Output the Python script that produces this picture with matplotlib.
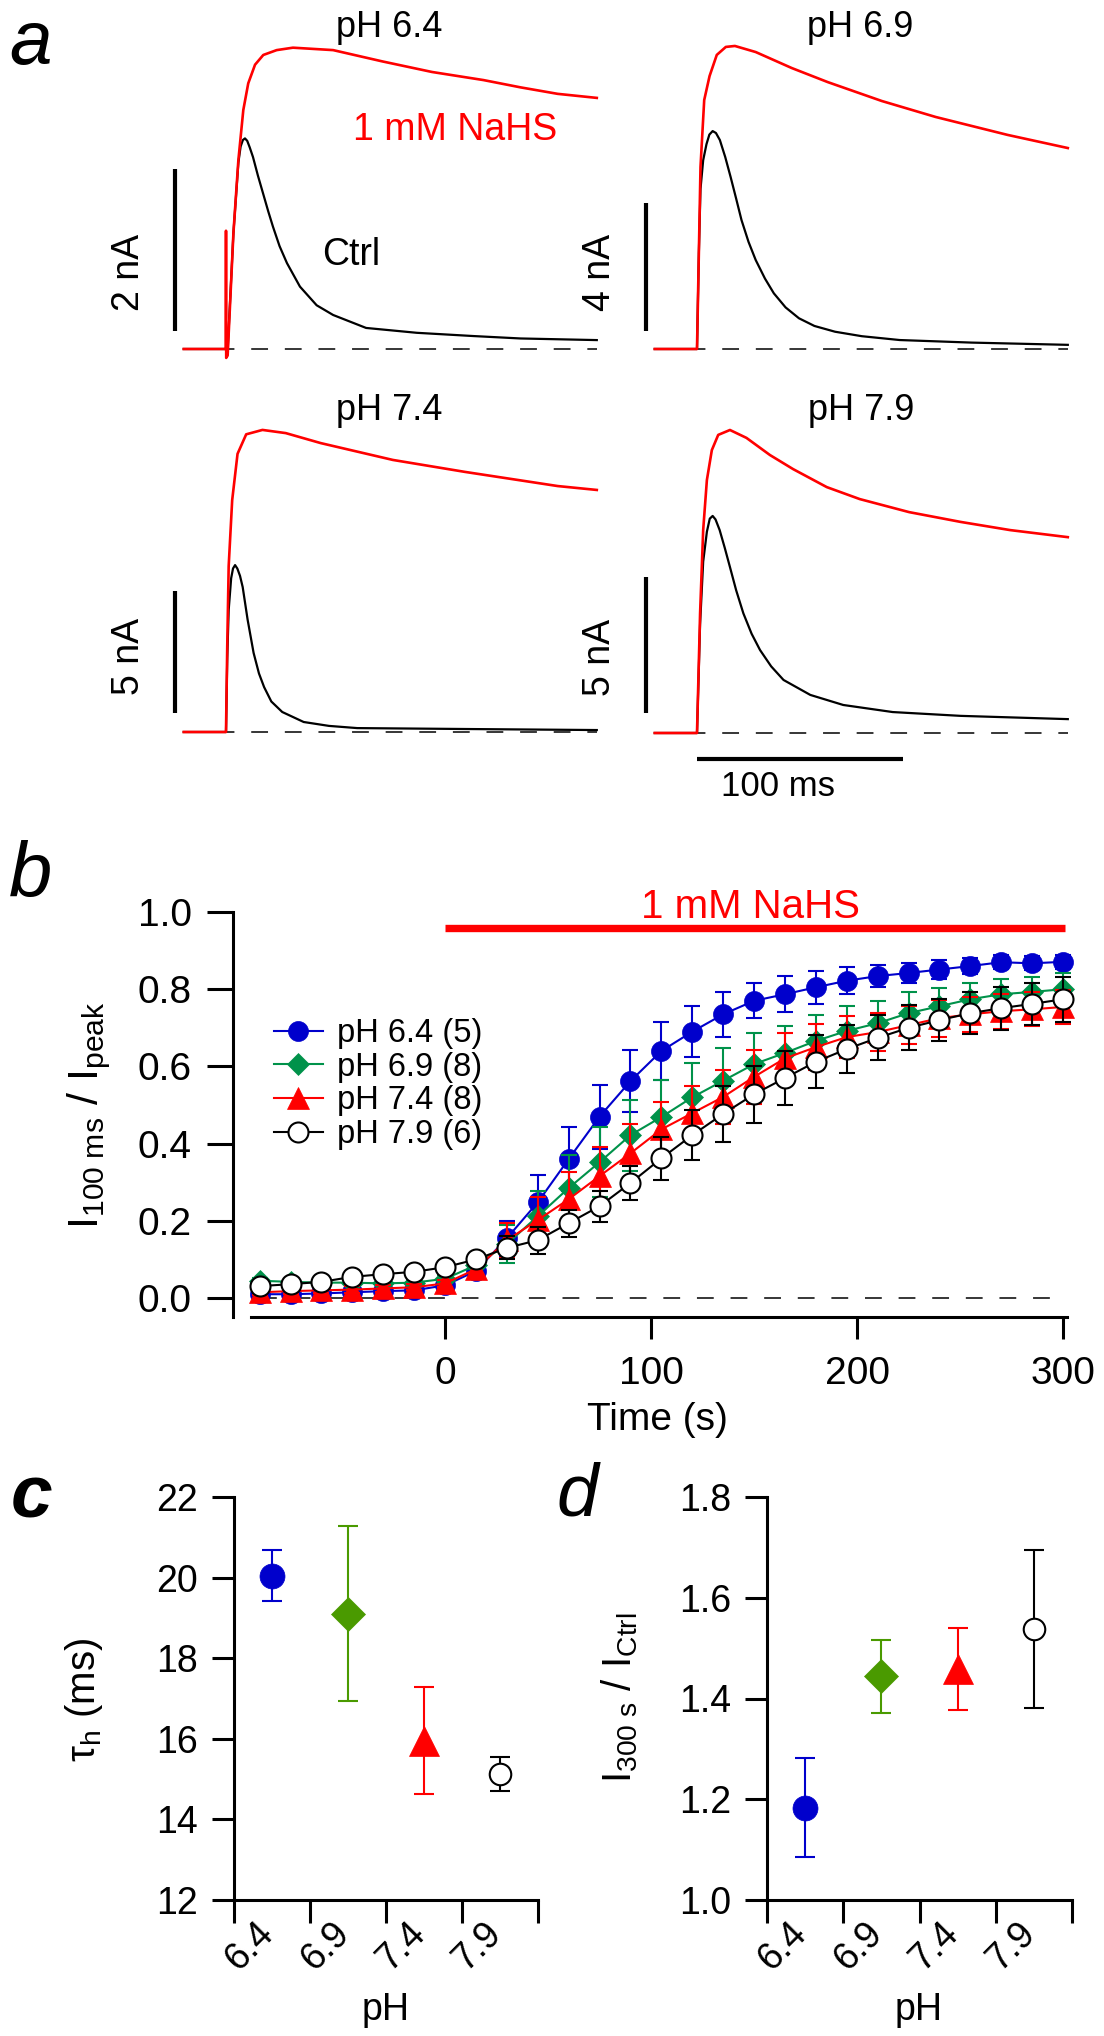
import matplotlib
matplotlib.use('Agg')
import matplotlib.pyplot as plt

plt.rcParams['font.family'] = ['Liberation Sans', 'DejaVu Sans']
plt.rcParams['mathtext.fontset'] = 'custom'
plt.rcParams['mathtext.rm'] = 'Liberation Sans'
plt.rcParams['mathtext.it'] = 'Liberation Sans:italic'
plt.rcParams['mathtext.bf'] = 'Liberation Sans:bold'

# ---------------- data ----------------
# a: example current traces (time in ms from pulse onset, current in nA)
t_64_ctrl = [-20.5, 0, 0.8, 3.6, 6.0, 7.1, 8.2, 9.2, 10.3, 11.5, 13.1, 15.5, 18, 20.5, 22.8, 26, 29.6,
             35.9, 44, 52, 68, 92.6, 120, 143, 180]
i_64_ctrl = [0, 0, -0.02, 1.43, 2.3, 2.5, 2.58, 2.60, 2.57, 2.49, 2.37, 2.14, 1.92, 1.70, 1.51, 1.27, 1.06,
             0.77, 0.54, 0.42, 0.26, 0.20, 0.16, 0.13, 0.11]
t_64_nahs = [-20.5, -10, -0.1, 0, 0.1, 0.8, 3.6, 6.0, 8.4, 10.8, 14.1, 18.1, 24.6, 32.5, 52, 76, 100, 125,
             143, 161, 180]
i_64_nahs = [0, 0, 0, 1.46, -0.11, -0.08, 1.43, 2.33, 2.95, 3.28, 3.51, 3.63, 3.69, 3.72, 3.69, 3.55, 3.42,
             3.32, 3.23, 3.15, 3.10]

t_69_ctrl = [-20.5, 0, 0.9, 1.7, 3.0, 4.6, 6.0, 7.6, 9.2, 11.1, 13.7, 16.3, 19, 21.6, 25, 28.5, 33, 37.3,
             43, 49.5, 57, 67, 80, 98.4, 133.3, 180]
i_69_ctrl = [0, 0, 3.0, 5.0, 5.9, 6.4, 6.7, 6.81, 6.75, 6.53, 6.0, 5.38, 4.7, 4.03, 3.35, 2.78, 2.2, 1.74,
             1.3, 0.96, 0.72, 0.54, 0.40, 0.28, 0.20, 0.13]
t_69_nahs = [-20.5, 0, 0.9, 1.7, 3.5, 6.1, 9.6, 14, 18.4, 28.5, 46, 63.5, 89.7, 115.9, 150.8, 180]
i_69_nahs = [0, 0, 3.0, 5.69, 7.78, 8.53, 9.19, 9.44, 9.47, 9.28, 8.78, 8.34, 7.75, 7.25, 6.69, 6.28]

t_74_ctrl = [-20.5, 0, 0.6, 1.3, 2.5, 3.4, 4.4, 5.5, 6.8, 8.1, 10.5, 13.4, 16, 18.5, 22, 27.3, 37.7, 50,
             63.7, 120, 180]
i_74_ctrl = [0, 0, 3.0, 5.0, 6.3, 6.7, 6.84, 6.7, 6.4, 5.94, 4.6, 3.24, 2.4, 1.84, 1.25, 0.82, 0.41, 0.25,
             0.16, 0.12, 0.08]
t_74_nahs = [-20.5, 0, 0.6, 1.3, 3.0, 5.6, 9.8, 17.7, 29, 46, 81, 116, 161, 180]
i_74_nahs = [0, 0, 3.5, 6.8, 9.5, 11.4, 12.2, 12.38, 12.25, 11.84, 11.15, 10.66, 10.08, 9.92]

t_79_ctrl = [-20.5, 0, 1.5, 3, 4.8, 6.2, 7.6, 9, 11, 13.5, 16, 19, 22.5, 26.5, 30.6, 36, 42, 55, 71, 95,
             128, 180]
i_79_ctrl = [0, 0, 4.0, 6.3, 7.4, 7.88, 7.98, 7.85, 7.46, 6.8, 6.1, 5.25, 4.4, 3.65, 3.05, 2.45, 1.95, 1.4,
             1.03, 0.77, 0.63, 0.51]
t_79_nahs = [-20.5, 0, 1.5, 3, 4.8, 7.2, 10.3, 16, 24, 35.4, 46.7, 63, 79, 103, 128, 152, 180]
i_79_nahs = [0, 0, 4.4, 7.46, 9.3, 10.4, 10.96, 11.14, 10.85, 10.22, 9.7, 9.04, 8.6, 8.12, 7.76, 7.46, 7.2]

# b: I100ms / Ipeak time course
time_s = [-90, -75, -60, -45, -30, -15, 0, 15, 30, 45, 60, 75, 90, 105, 120, 135, 150, 165, 180, 195,
          210, 225, 240, 255, 270, 285, 300]
b_64 = [0.01, 0.01, 0.012, 0.015, 0.018, 0.02, 0.033, 0.07, 0.155, 0.248, 0.36, 0.47, 0.562, 0.64, 0.69,
        0.735, 0.77, 0.787, 0.805, 0.822, 0.834, 0.842, 0.851, 0.86, 0.87, 0.867, 0.871]
b_64_err = [0.005, 0.005, 0.005, 0.005, 0.005, 0.005, 0.008, 0.015, 0.045, 0.072, 0.083, 0.083, 0.08,
            0.075, 0.066, 0.058, 0.045, 0.047, 0.042, 0.035, 0.028, 0.026, 0.024, 0.02, 0.018, 0.018, 0.018]
b_69 = [0.045, 0.042, 0.04, 0.04, 0.038, 0.04, 0.05, 0.085, 0.14, 0.212, 0.285, 0.352, 0.422, 0.469, 0.52,
        0.563, 0.606, 0.635, 0.666, 0.692, 0.712, 0.738, 0.756, 0.774, 0.787, 0.793, 0.80]
b_69_err = [0.008, 0.008, 0.008, 0.008, 0.008, 0.008, 0.01, 0.02, 0.05, 0.065, 0.085, 0.09, 0.092, 0.095,
            0.088, 0.084, 0.08, 0.069, 0.068, 0.065, 0.057, 0.054, 0.047, 0.041, 0.04, 0.039, 0.041]
b_74 = [0.015, 0.018, 0.02, 0.022, 0.025, 0.028, 0.038, 0.075, 0.15, 0.202, 0.256, 0.316, 0.375, 0.437,
        0.479, 0.521, 0.573, 0.621, 0.65, 0.676, 0.689, 0.707, 0.725, 0.735, 0.743, 0.748, 0.754]
b_74_err = [0.008, 0.008, 0.008, 0.008, 0.008, 0.008, 0.01, 0.02, 0.045, 0.06, 0.07, 0.075, 0.075, 0.07,
            0.07, 0.07, 0.07, 0.065, 0.06, 0.055, 0.05, 0.05, 0.048, 0.046, 0.045, 0.044, 0.043]
b_79 = [0.031, 0.036, 0.042, 0.055, 0.062, 0.068, 0.08, 0.1, 0.13, 0.15, 0.194, 0.238, 0.298, 0.362, 0.422,
        0.477, 0.528, 0.57, 0.612, 0.645, 0.674, 0.70, 0.72, 0.738, 0.751, 0.762, 0.774]
b_79_err = [0.008, 0.008, 0.008, 0.008, 0.008, 0.008, 0.01, 0.015, 0.03, 0.035, 0.035, 0.04, 0.045, 0.056,
            0.065, 0.072, 0.074, 0.069, 0.069, 0.062, 0.058, 0.058, 0.054, 0.054, 0.056, 0.054, 0.058]

# c, d: summary per pH
ph_labels = ['6.4', '6.9', '7.4', '7.9']
tau_mean = [20.05, 19.1, 15.95, 15.13]
tau_err = [0.63, 2.17, 1.33, 0.42]
ratio_mean = [1.183, 1.444, 1.459, 1.538]
ratio_err = [0.098, 0.073, 0.081, 0.157]

BLUE = '#0000CC'
GREEN_B = '#00924A'
GREEN_CD = '#4A9A00'
RED = '#FF0000'

# ---------------- figure ----------------
W, H = 1104, 2036
fig = plt.figure(figsize=(W / 100, H / 100), dpi=100)


def px_axes(left, top, right, bottom):
    return fig.add_axes([left / W, 1 - bottom / H, (right - left) / W, (bottom - top) / H])


def px_text(x, y, s, **kw):
    fig.text(x / W, 1 - y / H, s, **kw)


PX_MS = 2.06
T_LIM = (-26, 182)


def trace_axes(x0, y0, px_na, top_px, bottom_px):
    ax = px_axes(x0 + T_LIM[0] * PX_MS, top_px, x0 + T_LIM[1] * PX_MS, bottom_px)
    ax.set_xlim(T_LIM)
    ax.set_ylim((y0 - bottom_px) / px_na, (y0 - top_px) / px_na)
    ax.set_axis_off()
    ax.patch.set_alpha(0)
    return ax


dash = (0, (11, 11))
traces = [
    (226, 349, 81.0, 5, 380, t_64_ctrl, i_64_ctrl, t_64_nahs, i_64_nahs, (0.22, 2.22)),
    (697, 349, 32.0, 5, 380, t_69_ctrl, i_69_ctrl, t_69_nahs, i_69_nahs, (0.56, 4.56)),
    (226, 732, 24.4, 385, 820, t_74_ctrl, i_74_ctrl, t_74_nahs, i_74_nahs, (0.78, 5.78)),
    (697, 733, 27.2, 385, 820, t_79_ctrl, i_79_ctrl, t_79_nahs, i_79_nahs, (0.74, 5.74)),
]
trace_ax = []
for x0, y0, pxn, tp, bp, tc, ic, tn, i_n, bar in traces:
    ax = trace_axes(x0, y0, pxn, tp, bp)
    ax.plot([-20.5, 180], [0, 0], color='black', lw=1.1, ls=dash, clip_on=False)
    ax.plot(tc, ic, color='black', lw=1.6, clip_on=False)
    ax.plot(tn, i_n, color=RED, lw=1.9, clip_on=False)
    ax.plot([-24.8, -24.8], bar, color='black', lw=3, solid_capstyle='butt', clip_on=False)
    trace_ax.append(ax)

# 100 ms scale bar
trace_ax[3].plot([0, 100], [-0.96, -0.96], color='black', lw=3, solid_capstyle='butt', clip_on=False)
px_text(778, 787, '100 ms', fontsize=25, ha='center', va='center')

px_text(9, 9, r'$\mathit{a}$', fontsize=55, ha='left', va='top')
px_text(389, 37, 'pH 6.4', fontsize=26, ha='center', va='baseline')
px_text(860, 37, 'pH 6.9', fontsize=26, ha='center', va='baseline')
px_text(389, 420, 'pH 7.4', fontsize=26, ha='center', va='baseline')
px_text(861, 420, 'pH 7.9', fontsize=26, ha='center', va='baseline')
px_text(353, 140, '1 mM NaHS', fontsize=27, color=RED, ha='left', va='baseline')
px_text(322, 265, 'Ctrl', fontsize=27, ha='left', va='baseline')
px_text(129, 272, '2 nA', fontsize=27, rotation=90, ha='center', va='center')
px_text(600, 272, '4 nA', fontsize=27, rotation=90, ha='center', va='center')
px_text(129, 656, '5 nA', fontsize=27, rotation=90, ha='center', va='center')
px_text(600, 657, '5 nA', fontsize=27, rotation=90, ha='center', va='center')

# ---------------- panel b ----------------
axb = px_axes(251, 912, 1067, 1317)
axb.set_xlim(-94.2, 301.9)
axb.set_ylim(-0.049, 1.0)
for s in ['top', 'right']:
    axb.spines[s].set_visible(False)
for s in ['left', 'bottom']:
    axb.spines[s].set_linewidth(2.2)
axb.spines['left'].set_position(('outward', 13))
axb.set_yticks([0, 0.2, 0.4, 0.6, 0.8, 1.0])
axb.set_yticklabels(['0.0', '0.2', '0.4', '0.6', '0.8', '1.0'])
axb.set_xticks([0, 100, 200, 300])
axb.tick_params(axis='y', length=18.7, width=2.2, pad=10.8, labelsize=28)
axb.tick_params(axis='x', length=15.8, width=2.2, pad=12, labelsize=28)

axb.plot([-90, 295], [0, 0], color='black', lw=1.1, ls=dash)
axb.plot([0, 301], [0.958, 0.958], color=RED, lw=5.3, solid_capstyle='butt', clip_on=False)
axb.text(148.5, 0.984, '1 mM NaHS', color=RED, fontsize=29, ha='center', va='baseline')

series_b = [
    ('pH 6.4 (5)', b_64, b_64_err, BLUE, 'o', 14.4, BLUE),
    ('pH 6.9 (8)', b_69, b_69_err, GREEN_B, 'D', 11.7, GREEN_B),
    ('pH 7.4 (8)', b_74, b_74_err, RED, '^', 16.5, RED),
    ('pH 7.9 (6)', b_79, b_79_err, 'black', 'o', 14.4, 'white'),
]
z = 3
for label, m, e, col, mk, ms, fc in series_b:
    axb.errorbar(time_s, m, yerr=e, fmt='none', ecolor=col, elinewidth=1.5, capsize=6, capthick=1.5,
                 zorder=z, clip_on=False)
    axb.plot(time_s, m, color=col, lw=1.5, marker=mk, ms=ms, mfc=fc, mec=col,
             mew=1.5 if fc == 'white' else 0.5, label=label, zorder=z + 0.5, clip_on=False)
    z += 1
axb.legend(loc='upper left', bbox_to_anchor=(0.028, 0.738), frameon=False, fontsize=23.5,
           handlelength=1.5, handletextpad=0.45, labelspacing=0.08, borderpad=0, borderaxespad=0)

px_text(9, 897, 'b', fontsize=56, style='italic', ha='left', va='baseline')
px_text(89, 1115, r'$\mathrm{I_{100\ ms}\ /\ I_{peak}}$', fontsize=31, rotation=90, ha='center', va='center')
px_text(657, 1420, 'Time (s)', fontsize=28, ha='center', va='center')

# ---------------- panels c, d ----------------
colors_cd = [BLUE, GREEN_CD, RED, 'black']
faces_cd = [BLUE, GREEN_CD, RED, 'white']
markers_cd = ['o', 'D', '^', 'o']
sizes_cd = [18, 17.3, 21.6, 15.5]


def summary_axes(rect, ylim, yticks, ylabels, means, errs):
    ax = px_axes(*rect)
    ax.set_xlim(0, 4)
    ax.set_ylim(*ylim)
    for s in ['top', 'right']:
        ax.spines[s].set_visible(False)
    for s in ['left', 'bottom']:
        ax.spines[s].set_linewidth(2.2)
    ax.set_yticks(yticks)
    ax.set_yticklabels(ylabels)
    ax.set_xticks([0, 1, 2, 3, 4])
    ax.set_xticklabels([])
    ax.set_xticks([0.2, 1.2, 2.2, 3.2], minor=True)
    ax.set_xticklabels(ph_labels, minor=True, rotation=45, ha='center')
    ax.tick_params(axis='y', length=15.8, width=2.2, pad=10, labelsize=27)
    ax.tick_params(axis='x', which='major', length=16.5, width=2.2)
    ax.tick_params(axis='x', which='minor', length=0, pad=11, labelsize=27)
    for i in range(4):
        ax.errorbar(i + 0.5, means[i], yerr=errs[i], fmt='none', ecolor=colors_cd[i], elinewidth=1.5,
                    capsize=7.5, capthick=1.5, zorder=3)
        ax.plot(i + 0.5, means[i], marker=markers_cd[i], ms=sizes_cd[i], mfc=faces_cd[i],
                mec=colors_cd[i], mew=1.5 if faces_cd[i] == 'white' else 0.5, zorder=4, clip_on=False)
    return ax


axc = summary_axes((234, 1497, 538, 1900), (12, 22), [12, 14, 16, 18, 20, 22],
                   ['12', '14', '16', '18', '20', '22'], tau_mean, tau_err)
axd = summary_axes((767, 1497, 1072, 1900), (1.0, 1.8), [1.0, 1.2, 1.4, 1.6, 1.8],
                   ['1.0', '1.2', '1.4', '1.6', '1.8'], ratio_mean, ratio_err)

px_text(11, 1517, 'c', fontsize=54, style='italic', weight='bold', ha='left', va='baseline')
px_text(556, 1515, 'd', fontsize=54, style='italic', ha='left', va='baseline')
px_text(84, 1700, 'τ$_\\mathrm{h}$ (ms)', fontsize=29, rotation=90, ha='center', va='center')
px_text(620, 1698, r'$\mathrm{I_{300\ s}\ /\ I_{Ctrl}}$', fontsize=29, rotation=90, ha='center', va='center')
px_text(386, 2010, 'pH', fontsize=27, ha='center', va='center')
px_text(919, 2010, 'pH', fontsize=27, ha='center', va='center')

fig.savefig('out.png', dpi=100)
